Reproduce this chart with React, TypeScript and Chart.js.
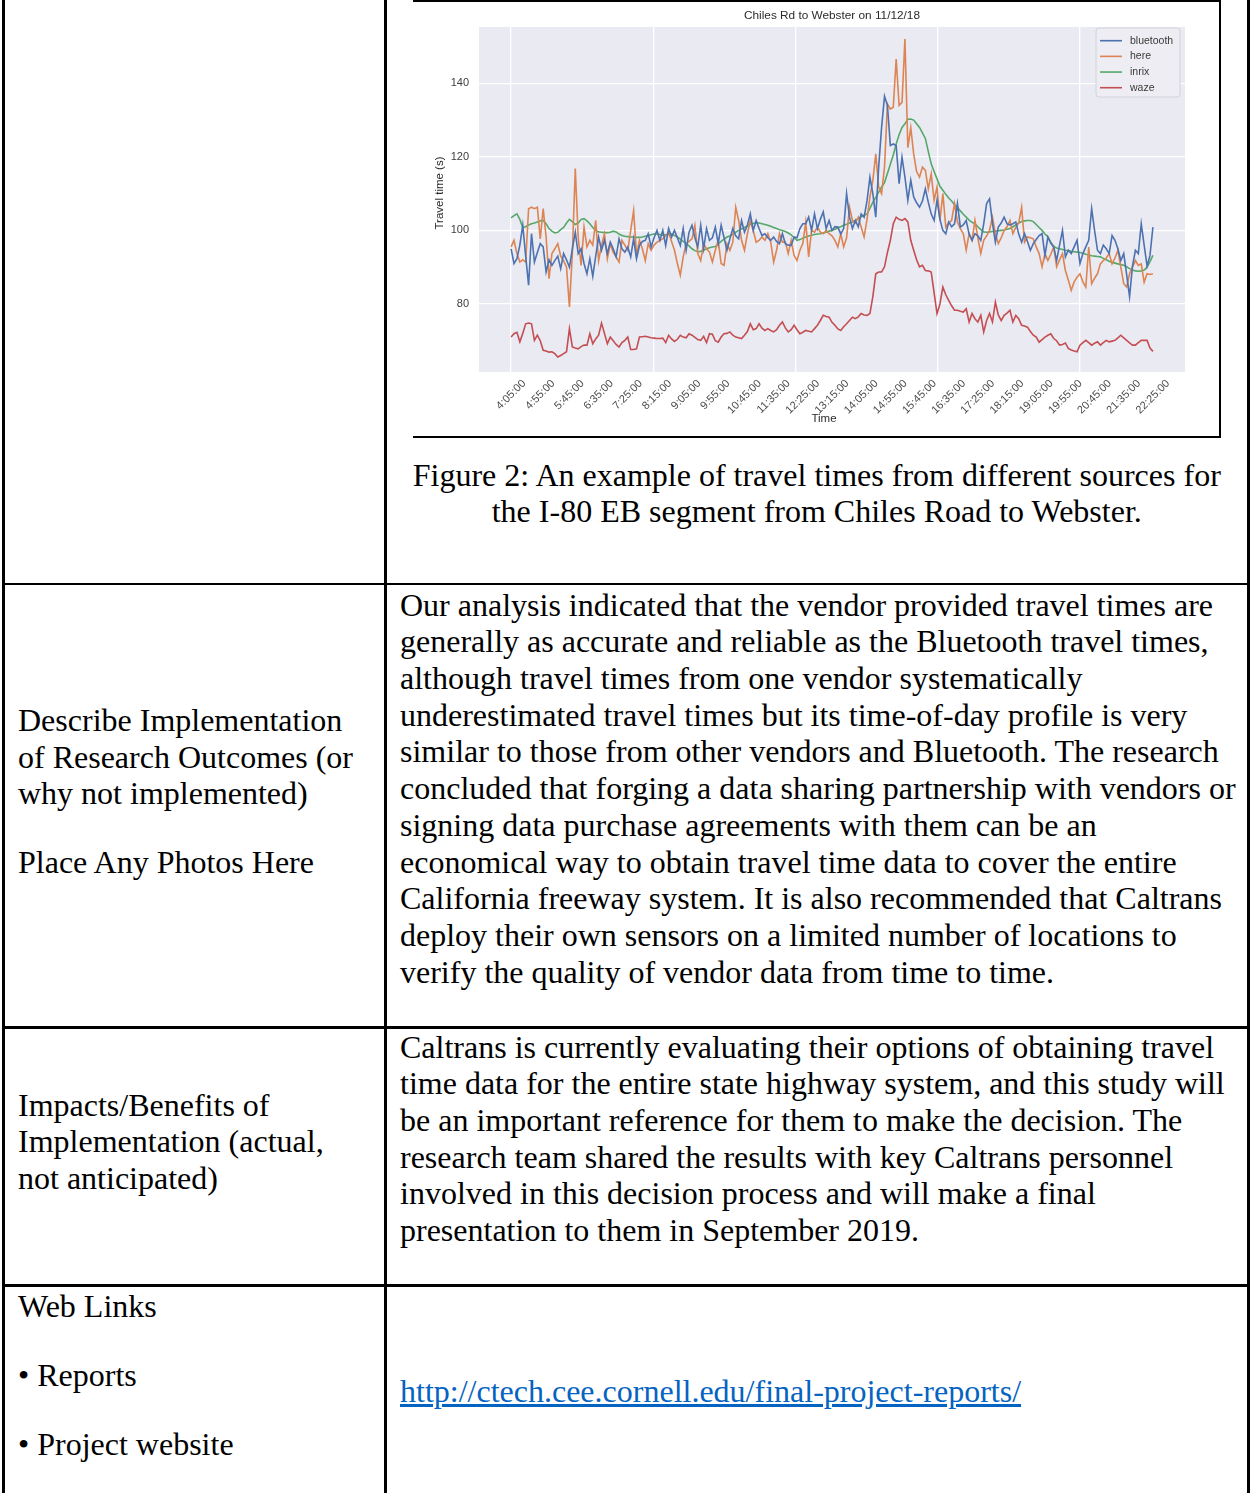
import React, { useEffect, useRef } from 'react';
import { Chart, registerables } from 'chart.js';

Chart.register(...registerables);

// ---------------- chart data ----------------
const chartTitle = 'Chiles Rd to Webster on 11/12/18';
const yAxisTitle = 'Travel time (s)';
const xAxisTitle = 'Time';

// one tick label every 10 samples (samples are 5 minutes apart)
const timeLabels = [
  '4:05:00', '4:55:00', '5:45:00', '6:35:00', '7:25:00', '8:15:00', '9:05:00', '9:55:00',
  '10:45:00', '11:35:00', '12:25:00', '13:15:00', '14:05:00', '14:55:00', '15:45:00',
  '16:35:00', '17:25:00', '18:15:00', '19:05:00', '19:55:00', '20:45:00', '21:35:00', '22:25:00',
];
const yTickValues = [80, 100, 120, 140];
const xGridValues = [0, 48.7, 97.4, 146.1, 194.8];

const seriesNames = ['bluetooth', 'here', 'inrix', 'waze'];
const seriesColors = ['#4C72B0', '#DD8452', '#55A868', '#C44E52'];

const bluetooth = [
  95, 91, 92.3, 96, 101.4, 93, 85.1, 99.1, 91.4, 94,
  96.4, 95.5, 88.7, 92, 90.5, 91.8, 93, 89.6, 93.7, 92,
  90, 95, 99.5, 93.7, 95, 91, 88.2, 92.3, 87.5, 93,
  98.2, 94.6, 97.3, 93.7, 96.8, 95, 92.8, 97.7, 95, 94.1,
  95.5, 92.8, 97.7, 92.3, 95.9, 97, 97.3, 99.1, 95.5, 98,
  100, 97.3, 100, 95.9, 100.5, 98.2, 100, 98, 95.9, 100.5,
  94.6, 99.5, 101.4, 98, 95.5, 101.4, 95, 100.5, 97.3, 98,
  100.9, 96.4, 101.4, 98, 94.6, 97.7, 100.5, 98.5, 97.7, 102.7,
  99.5, 101.4, 104.5, 100, 102.7, 100.5, 98.6, 99.1, 98, 97.3,
  98.2, 97, 96.4, 99.1, 96.4, 96, 95.9, 98.2, 98, 100.5,
  101.8, 101.8, 103.6, 100, 104.5, 100.5, 103, 105, 100.5, 102.7,
  100, 101, 100.9, 99, 100.5, 110, 103.6, 100.5, 102.7, 101,
  104.5, 103.6, 108, 114.5, 110, 103.6, 117.2, 128, 136.5, 134,
  123.1, 123.5, 123.1, 112.7, 119.9, 114.5, 108.2, 113.6, 109.1, 107.5,
  106.3, 108, 111.3, 107.7, 104.5, 102.7, 108.2, 103, 100, 99.1,
  102.3, 101, 101.8, 107.3, 100.9, 101.5, 102.7, 99, 97.3, 99.1,
  98.5, 97.3, 101.8, 107.3, 108.6, 102, 96.8, 100.9, 102, 103.6,
  101.8, 101.5, 101.8, 102.3, 99, 96.8, 99.1, 97, 94.6, 96.4,
  97.5, 98.6, 99.1, 93.2, 98.2, 96.5, 95.5, 91.8, 96, 100,
  92.8, 94.6, 93.7, 95.5, 97.3, 91, 93.7, 95.5, 97.3, 105.9,
  100, 94.6, 93.7, 96, 95, 93.7, 98.6, 97.3, 95, 91.8,
  93.7, 88, 82, 90.3, 94.6, 93.7, 101.8, 96, 90.3, 93.2,
  100.9,
];

const here = [
  95.5, 97.3, 93.7, 91.4, 92, 91.4, 105.9, 106.3, 105.9, 106.3,
  97.7, 105.9, 98.2, 86.9, 93.7, 95, 96.4, 93, 91.8, 90,
  79.2, 93.7, 116.8, 98.2, 90.5, 100.9, 95.5, 97.3, 96, 102.7,
  91.8, 95.9, 99.1, 92.3, 96.4, 94, 92.8, 91.4, 97.3, 96,
  94.6, 100, 105.4, 93.2, 97.3, 95, 91.8, 96.4, 94.6, 96,
  96.8, 97.3, 97.7, 98.5, 99.5, 97, 94.6, 91, 87.8, 92.8,
  96.4, 97, 97.7, 101.4, 93.7, 91.8, 96.4, 95, 94.1, 91.4,
  94.6, 97.3, 91, 90.5, 96.4, 94.6, 96.8, 106.3, 102.7, 97.3,
  94.6, 99.1, 102.7, 100, 96.8, 97.3, 98.2, 97.3, 99.1, 96.8,
  91.4, 94.6, 99.1, 96.8, 96.8, 93.7, 97.3, 93.2, 91.8, 94.6,
  96.4, 102.3, 92.8, 100, 99.5, 100.9, 99.5, 99.1, 100, 99.1,
  98.5, 97.3, 95.5, 99.1, 95.5, 98, 106.3, 102.7, 102, 103.6,
  100.9, 98.2, 103, 109.1, 113.6, 120.8, 111.8, 110, 117.2, 134.4,
  133, 133.5, 146.6, 134, 134.8, 152, 122.5, 127.9, 120.8, 116,
  114.5, 117.2, 116.3, 111.3, 115.4, 108.2, 111.8, 102.7, 110, 100.9,
  102, 102.7, 107.3, 102.3, 100.5, 99.1, 94.6, 99.1, 97.3, 102.7,
  98, 93.7, 97.3, 98.5, 100, 103.6, 99.1, 96.4, 98, 100,
  101, 102.7, 99.1, 100.9, 102, 106.3, 96.8, 98.2, 98, 97.7,
  95.5, 93.7, 90.1, 93.7, 91.8, 93.5, 95.5, 90.1, 92, 93.7,
  89.1, 86.5, 83.7, 86, 87.3, 88.2, 86, 84.6, 95.5, 85.5,
  87, 88.2, 90.9, 91.8, 92.5, 93.7, 90.9, 92.5, 94.6, 90,
  85.5, 84.6, 88.2, 90, 91.8, 90.5, 90.9, 85.9, 88.2, 88,
  88.2,
];

const inrix = [
  103.4, 104, 104.5, 103, 100.8, 101, 101.5, 101.8, 102, 102.3,
  102.6, 102.7, 101.8, 100.5, 99.8, 99.3, 99.5, 100.2, 100.8, 102,
  103, 102.4, 101.6, 102, 103, 103.2, 102.6, 101.8, 100.8, 100,
  99.6, 99.5, 99.4, 99.4, 99.5, 99.8, 99.6, 99, 98.6, 98.4,
  98.3, 98.2, 98.2, 98.1, 98.1, 98.2, 98.4, 98.6, 98.8, 99,
  99.1, 98.9, 98.7, 98.8, 98.9, 99, 98.6, 98.2, 97.6, 97,
  96.4, 95.8, 95, 94.5, 94.2, 94.3, 94.6, 95, 95.3, 95.5,
  95.6, 96.3, 97, 97.6, 98.2, 98.5, 99, 99.5, 100, 100.4,
  100.8, 101.2, 101.6, 101.9, 102.1, 102, 101.8, 101.6, 101.4, 101.1,
  100.8, 100.5, 100.2, 100, 99.7, 99.3, 98.8, 98, 97.3, 97.5,
  97.9, 98.2, 98.5, 98.7, 98.9, 99, 99.1, 99.3, 99.5, 99.8,
  100, 100.3, 100.7, 101, 101.4, 101.7, 102, 102.3, 102.7, 103.2,
  103.7, 104.1, 104.5, 106, 107.7, 109, 110.4, 111.8, 113, 115.5,
  118, 120.5, 123.5, 126, 128, 129, 130.2, 130.3, 130, 129,
  128, 126.5, 125, 121.5, 118.1, 116, 114, 112, 110.9, 109.8,
  108.8, 108, 107, 106.3, 105.3, 104.4, 103.6, 102.8, 102.2, 101.8,
  101, 100.2, 99.6, 99.5, 99.6, 99.7, 99.8, 99.9, 100, 100.1,
  100.3, 100.5, 101, 101.5, 102, 102.4, 102.6, 102.7, 102.7, 102.4,
  101.6, 100.8, 100, 99, 98.2, 96.8, 95.6, 95.2, 95, 94.8,
  94.6, 94.5, 94.3, 94.2, 94.1, 94, 93.8, 93.5, 93.3, 93.1,
  93, 92.9, 92.8, 92.4, 92, 91.6, 91.3, 91.1, 90.9, 90.7,
  90.5, 90.1, 89.6, 89.2, 89, 88.9, 89, 89.2, 90, 91.5,
  93.2,
];

const waze = [
  71, 71.9, 72.3, 69.7, 72, 74.6, 74.8, 74.6, 70.1, 71.5,
  70, 67.4, 67.2, 66.9, 67, 66.5, 65.6, 66, 66.5, 67,
  73.3, 68.3, 68, 67.8, 68.4, 68.8, 68.8, 71.9, 69.2, 70.5,
  71.5, 74.8, 72, 69.2, 71, 70, 69, 68.3, 69.5, 70.1,
  71, 67.6, 67.6, 67.8, 71, 71.1, 71.2, 71, 70.8, 70.7,
  70.6, 70.6, 70.7, 69.5, 71.5, 70.5, 69.8, 70.4, 71.5, 71,
  70.8, 71.9, 71.5, 70.9, 70.3, 70.1, 71.2, 69.5, 71.9, 71.8,
  70, 69.6, 71, 71.9, 72, 72.4, 71.5, 71, 70.8, 70.6,
  71.5, 72.5, 74.6, 73, 73.3, 74.6, 73.4, 72.8, 73.3, 72.8,
  72.4, 73, 74.2, 75.1, 73.5, 72.4, 73, 74.2, 73, 71.9,
  72.3, 72.8, 72.6, 72.4, 73.3, 74.2, 75.5, 76.9, 76.6, 76.4,
  75, 74.2, 73.2, 72.8, 73.8, 74.6, 75.5, 76.4, 76, 76.5,
  77.4, 77, 76.9, 77.4, 82, 88.2, 88.7, 88.7, 90.1, 94,
  97.3, 101.8, 103.6, 103, 102.7, 103.2, 102.3, 97.3, 94.6, 92,
  90.1, 90.5, 89.1, 89, 88.7, 83, 77.4, 80, 84.6, 82.5,
  81, 79.5, 78.3, 78.3, 78, 77.8, 78.7, 75.1, 77.4, 76,
  75.1, 76.9, 72.4, 75.5, 77.4, 75.1, 80.5, 77, 75.5, 76.9,
  77.5, 78.3, 75.1, 76.9, 76, 74.2, 74, 73.7, 72.5, 71.5,
  71, 69.6, 70.3, 71, 71.5, 71.9, 70.6, 70, 68.8, 69,
  69.4, 67.9, 67.5, 67.2, 67, 68.8, 69.5, 70.1, 69.5, 68.8,
  69.3, 69.7, 68.8, 69.5, 70.1, 69.7, 69.9, 70.1, 70.8, 71.5,
  70.8, 70.1, 69.4, 68.8, 68.8, 69.5, 70.1, 70.1, 70.1, 68,
  67.1,
];

const seriesValues = [bluetooth, here, inrix, waze];

// ---------------- document text ----------------
const captionLines = [
  'Figure 2: An example of travel times from different sources for',
  'the I-80 EB segment from Chiles Road to Webster.',
];
const outcomeLines = [
  'Our analysis indicated that the vendor provided travel times are',
  'generally as accurate and reliable as the Bluetooth travel times,',
  'although travel times from one vendor systematically',
  'underestimated travel times but its time-of-day profile is very',
  'similar to those from other vendors and Bluetooth. The research',
  'concluded that forging a data sharing partnership with vendors or',
  'signing data purchase agreements with them can be an',
  'economical way to obtain travel time data to cover the entire',
  'California freeway system. It is also recommended that Caltrans',
  'deploy their own sensors on a limited number of locations to',
  'verify the quality of vendor data from time to time.',
];
const describeLines = [
  { t: 'Describe Implementation', y: 720 },
  { t: 'of Research Outcomes (or', y: 757 },
  { t: 'why not implemented)', y: 793 },
  { t: 'Place Any Photos Here', y: 862 },
];
const impactLines = [
  'Caltrans is currently evaluating their options of obtaining travel',
  'time data for the entire state highway system, and this study will',
  'be an important reference for them to make the decision. The',
  'research team shared the results with key Caltrans personnel',
  'involved in this decision process and will make a final',
  'presentation to them in September 2019.',
];
const impactLeftLines = [
  { t: 'Impacts/Benefits of', y: 1105 },
  { t: 'Implementation (actual,', y: 1141 },
  { t: 'not anticipated)', y: 1178 },
];
const webLeftLines = [
  { t: 'Web Links', y: 1306 },
  { t: '\u2022 Reports', y: 1375 },
  { t: '\u2022 Project website', y: 1444 },
];
const linkText = 'http://ctech.cee.cornell.edu/final-project-reports/';

const LH = 36.7;
const SERIF = "'Liberation Serif', 'Times New Roman', serif";
const SANS = "'Liberation Sans', Arial, sans-serif";

function TextLine(props: { text: string; x: number; y: number; width?: number; center?: boolean; style?: any }) {
  const { text, x, y, width, center, style } = props;
  return (
    <div
      style={{
        position: 'absolute',
        left: x,
        top: y - LH / 2,
        width: width,
        height: LH,
        lineHeight: LH + 'px',
        fontSize: 32,
        fontFamily: SERIF,
        whiteSpace: 'nowrap',
        textAlign: center ? 'center' : 'left',
        color: '#000',
        ...style,
      }}
    >
      {text}
    </div>
  );
}

function Rule(props: { x: number; y: number; w: number; h: number }) {
  return (
    <div style={{ position: 'absolute', left: props.x, top: props.y, width: props.w, height: props.h, background: '#000' }} />
  );
}

const decorPlugin = {
  id: 'decor',
  beforeDraw(chart: any) {
    const { ctx, chartArea: a, width, height } = chart;
    ctx.save();
    ctx.fillStyle = '#ffffff';
    ctx.fillRect(0, 0, width, height);
    ctx.fillStyle = '#EAEAF2';
    ctx.fillRect(a.left, a.top, a.right - a.left, a.bottom - a.top);
    ctx.restore();
  },
  afterDraw(chart: any) {
    const { ctx, chartArea: a } = chart;
    const xs = chart.scales.x;
    ctx.save();
    // title
    ctx.font = `11.8px ${SANS}`;
    ctx.fillStyle = '#2b2b2b';
    ctx.textAlign = 'center';
    ctx.textBaseline = 'middle';
    ctx.fillText(chartTitle, (a.left + a.right) / 2, a.top - 11);

    // rotated x tick labels, centred on their tick
    ctx.font = `11px ${SANS}`;
    ctx.fillStyle = '#4a4a4a';
    timeLabels.forEach((lab, k) => {
      const x = xs.getPixelForValue(k * 10);
      const w = ctx.measureText(lab).width;
      const half = ((w + 8) * Math.SQRT1_2) / 2;
      ctx.save();
      ctx.translate(x, a.bottom + 7 + half);
      ctx.rotate(-Math.PI / 4);
      ctx.textAlign = 'center';
      ctx.textBaseline = 'middle';
      ctx.fillText(lab, 0, 0);
      ctx.restore();
    });

    // axis titles
    ctx.font = `11.5px ${SANS}`;
    ctx.fillStyle = '#2b2b2b';
    ctx.textAlign = 'center';
    ctx.textBaseline = 'middle';
    ctx.fillText(xAxisTitle, (a.left + a.right) / 2 - 8, 419);
    ctx.save();
    ctx.translate(27, 193);
    ctx.rotate(-Math.PI / 2);
    ctx.fillText(yAxisTitle, 0, 0);
    ctx.restore();

    // legend
    const bx = a.right - 89;
    const by = a.top + 1;
    const bw = 84;
    const bh = 69;
    const r = 3;
    ctx.beginPath();
    ctx.moveTo(bx + r, by);
    ctx.lineTo(bx + bw - r, by);
    ctx.quadraticCurveTo(bx + bw, by, bx + bw, by + r);
    ctx.lineTo(bx + bw, by + bh - r);
    ctx.quadraticCurveTo(bx + bw, by + bh, bx + bw - r, by + bh);
    ctx.lineTo(bx + r, by + bh);
    ctx.quadraticCurveTo(bx, by + bh, bx, by + bh - r);
    ctx.lineTo(bx, by + r);
    ctx.quadraticCurveTo(bx, by, bx + r, by);
    ctx.closePath();
    ctx.fillStyle = '#EDEDF3';
    ctx.fill();
    ctx.strokeStyle = '#D2D2DA';
    ctx.lineWidth = 1;
    ctx.stroke();
    ctx.font = `10.5px ${SANS}`;
    ctx.textAlign = 'left';
    ctx.textBaseline = 'middle';
    seriesNames.forEach((name, k) => {
      const yy = by + 12.7 + k * 15.67;
      ctx.strokeStyle = seriesColors[k];
      ctx.lineWidth = 1.6;
      ctx.beginPath();
      ctx.moveTo(bx + 4, yy);
      ctx.lineTo(bx + 26, yy);
      ctx.stroke();
      ctx.fillStyle = '#3a3a3a';
      ctx.fillText(name, bx + 34, yy);
    });
    ctx.restore();
  },
};

function TravelChart() {
  const ref = useRef<HTMLCanvasElement | null>(null);
  useEffect(() => {
    if (!ref.current) return;
    const chart = new Chart(ref.current, {
      type: 'line',
      data: {
        datasets: seriesNames.map((name, k) => ({
          label: name,
          data: seriesValues[k].map((v, i) => ({ x: i, y: v })),
          borderColor: seriesColors[k],
          backgroundColor: seriesColors[k],
          borderWidth: 1.6,
          pointRadius: 0,
          tension: 0,
          fill: false,
          xAxisID: 'x',
          yAxisID: 'y',
        })),
      },
      options: {
        animation: false,
        responsive: false,
        maintainAspectRatio: false,
        devicePixelRatio: 1,
        layout: { padding: { top: 27, left: 0, right: 34, bottom: 0 } },
        plugins: {
          legend: { display: false },
          title: { display: false },
          tooltip: { enabled: false },
        },
        scales: {
          x: {
            type: 'linear',
            position: 'bottom',
            min: -11,
            max: 231,
            afterBuildTicks: (s: any) => {
              s.ticks = timeLabels.map((_, k) => ({ value: k * 10 }));
            },
            ticks: { display: false },
            grid: { display: false },
            border: { display: false },
            afterFit: (s: any) => {
              s.height = 64;
            },
          },
          xg: {
            type: 'linear',
            position: 'bottom',
            min: -11,
            max: 231,
            afterBuildTicks: (s: any) => {
              s.ticks = xGridValues.map((v) => ({ value: v }));
            },
            ticks: { display: false },
            grid: { color: '#ffffff', lineWidth: 1.3, drawTicks: false },
            border: { display: false },
            afterFit: (s: any) => {
              s.height = 0;
            },
          },
          y: {
            type: 'linear',
            min: 61.5,
            max: 155.3,
            afterBuildTicks: (s: any) => {
              s.ticks = yTickValues.map((v) => ({ value: v }));
            },
            ticks: {
              padding: 10,
              color: '#3d3d3d',
              font: { size: 11, family: SANS },
              callback: (v: any) => String(v),
            },
            grid: { color: '#ffffff', lineWidth: 1.3, drawTicks: false },
            border: { display: false },
            afterFit: (s: any) => {
              s.width = 66;
            },
          },
        },
      } as any,
      plugins: [decorPlugin],
    });
    return () => chart.destroy();
  }, []);
  return <canvas ref={ref} width={806} height={436} style={{ position: 'absolute', left: 413, top: 0, width: 806, height: 436 }} />;
}

export default function App() {
  return (
    <div
      style={{
        position: 'absolute',
        left: 0,
        top: 0,
        width: 1254,
        height: 1493,
        overflow: 'hidden',
        background: '#ffffff',
      }}
    >
      <TravelChart />
      {/* figure frame */}
      <Rule x={413} y={0} w={808} h={1.6} />
      <Rule x={1219} y={0} w={2} h={437.5} />
      <Rule x={413} y={435.6} w={808} h={2} />

      {/* table rules */}
      <Rule x={2} y={0} w={2.5} h={1493} />
      <Rule x={384} y={0} w={2.5} h={1493} />
      <Rule x={1247} y={0} w={2.5} h={1493} />
      <Rule x={2} y={582.5} w={1247.5} h={2.5} />
      <Rule x={2} y={1026} w={1247.5} h={2.5} />
      <Rule x={2} y={1284} w={1247.5} h={2.5} />

      {captionLines.map((t, k) => (
        <TextLine key={'c' + k} text={t} x={386.5} width={860.5} center y={475 + k * LH} />
      ))}
      {outcomeLines.map((t, k) => (
        <TextLine key={'o' + k} text={t} x={400} y={605 + k * LH} />
      ))}
      {describeLines.map((l, k) => (
        <TextLine key={'d' + k} text={l.t} x={18} y={l.y} />
      ))}
      {impactLines.map((t, k) => (
        <TextLine key={'i' + k} text={t} x={400} y={1047 + k * LH} />
      ))}
      {impactLeftLines.map((l, k) => (
        <TextLine key={'il' + k} text={l.t} x={18} y={l.y} />
      ))}
      {webLeftLines.map((l, k) => (
        <TextLine key={'w' + k} text={l.t} x={18} y={l.y} />
      ))}
      <TextLine text={linkText} x={400} y={1391} style={{ color: '#0563C1', textDecoration: 'underline' }} />
    </div>
  );
}
